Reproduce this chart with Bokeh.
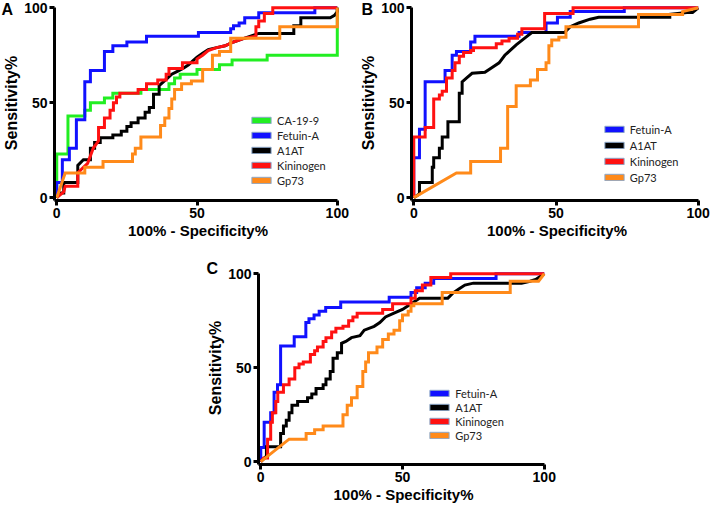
from bokeh.plotting import figure
from bokeh.models import Legend, LegendItem, Range1d, Spacer
from bokeh.layouts import column, row
from bokeh.embed import file_html
from bokeh.resources import INLINE

# ---------------- data (percent) ----------------
# Panel A
a_ca199_x = [0, 0, 4, 4, 10, 10, 12, 12, 17, 17, 20, 20, 30, 30, 40, 40, 42, 42, 44, 44, 50, 50, 58, 58, 62.5, 62.5, 75, 75, 100, 100]
a_ca199_y = [0, 23, 23, 43, 43, 46, 46, 50, 50, 52.5, 52.5, 55, 55, 57, 57, 60, 60, 63, 63, 65, 65, 67.5, 67.5, 70, 70, 72.5, 72.5, 75, 75, 100]

a_fetuin_x = [0, 0, 2, 2, 4.5, 4.5, 7, 7, 10, 10, 12, 12, 17, 17, 20, 20, 25, 25, 32, 32, 50.5, 50.5, 62, 62, 63, 63, 65, 65, 67, 67, 72, 72, 92, 92, 100]
a_fetuin_y = [0, 8, 8, 20, 20, 26, 26, 41, 41, 61, 61, 67, 67, 77, 77, 80, 80, 82, 82, 85, 85, 87, 87, 89, 89, 90.5, 90.5, 92, 92, 94.7, 94.7, 97.4, 97.4, 100, 100]

a_a1at_x = [0, 1.5, 2.5, 2.5, 7.5, 7.5, 9.5, 12, 12, 13.5, 13.5, 15.5, 15.5, 20, 20, 23, 23, 25, 25, 26.5, 26.5, 29, 29, 31.5, 31.5, 33, 33, 34.5, 34.5, 36.5, 36.5, 38, 39.5, 41, 43, 45, 47, 48.5, 50, 52, 54, 57, 60, 63, 67, 72, 84.5, 84.5, 87, 87, 97.5, 99, 100, 100]
a_a1at_y = [0, 2.5, 2.5, 8, 8, 17, 20, 20, 26, 26, 29, 29, 31.5, 31.5, 33, 33, 35, 35, 37.5, 37.5, 39.5, 39.5, 42, 42, 45, 45, 47.5, 47.5, 54.5, 54.5, 59, 61, 63, 65, 66.5, 68, 70, 72, 74, 76, 78, 79, 80, 82, 84, 86.5, 86.5, 90.5, 90.5, 94.7, 94.7, 96, 98, 100]

a_kin_x = [0, 2.5, 3, 7.5, 7.5, 9.5, 11, 12, 13, 14, 14.9, 14.9, 17, 17, 19, 19, 20.2, 20.2, 21.3, 21.3, 22.5, 22.5, 29, 29, 32, 32, 36, 36, 39, 39, 40, 40, 44.8, 44.8, 50, 50, 52, 54, 57, 60, 63, 67, 71, 71, 72, 72, 74, 74, 77, 77, 100]
a_kin_y = [0, 3, 6, 6, 13, 16, 18, 22, 26, 28, 30, 37, 37, 42, 42, 46, 46, 50, 50, 53, 53, 55, 55, 57, 57, 60, 60, 62, 62, 65, 65, 68, 68, 71, 71, 73, 75, 77.5, 79, 80, 82, 84, 85, 90, 90, 93, 93, 97, 97, 100, 100]

a_gp73_x = [0, 3, 10, 10, 16.5, 16.5, 27, 27, 28, 28, 30, 30, 37, 37, 38.5, 38.5, 40, 40, 41, 41, 42, 42, 44.5, 44.5, 48, 48, 52, 52, 55.5, 55.5, 58, 58, 62, 62, 79.5, 79.5, 100, 100]
a_gp73_y = [0, 13, 13, 16, 16, 19, 19, 23, 23, 26, 26, 32, 32, 38, 38, 42, 42, 47, 47, 52, 52, 57, 57, 60, 60, 61.5, 61.5, 67.5, 67.5, 75, 75, 77, 77, 84, 84, 90, 90, 100]

# Panel B
b_fetuin_x = [0, 0, 2, 2, 4, 4, 11, 11, 13.5, 13.5, 15, 15, 20, 20, 21.5, 21.5, 37, 37, 46.5, 46.5, 50.5, 50.5, 55, 55, 74, 74, 100]
b_fetuin_y = [0, 21, 21, 36, 36, 61, 61, 67, 67, 75, 75, 77, 77, 82, 82, 85, 85, 87, 87, 92, 92, 95, 95, 98, 98, 100, 100]

b_a1at_x = [0, 2, 2, 6.5, 6.5, 7, 7, 9, 9, 10, 10, 12, 12, 16, 16, 17, 17, 18.5, 20.5, 25, 27, 30, 32, 33.5, 36, 39, 41.5, 53, 55, 58, 62, 65, 90, 90, 96, 98, 100]
b_a1at_y = [0, 2, 8, 8, 16, 16, 21, 21, 26, 26, 32, 32, 40, 40, 55, 55, 61, 63, 65.5, 66, 68, 71, 75, 77, 80.5, 84, 87, 87, 90, 92, 94, 95, 95, 96.5, 97.5, 97.5, 100]

b_kin_x = [0, 0, 4, 4, 7, 7, 9, 9, 10, 10, 11.5, 11.5, 13.5, 13.5, 14.5, 14.5, 16, 16, 17.5, 17.5, 20, 20, 21, 21, 29, 29, 31, 31, 33.5, 33.5, 36.5, 36.5, 38, 38, 46, 46, 56, 56, 100]
b_kin_y = [0, 32, 32, 37, 37, 52, 52, 54, 54, 56, 56, 63, 63, 67, 67, 71, 71, 74.5, 74.5, 76.5, 76.5, 77.5, 77.5, 79, 79, 81, 81, 82.5, 82.5, 84, 84, 86, 86, 89, 89, 97, 97, 100, 100]

b_gp73_x = [0, 15, 20, 20, 30.5, 30.5, 33, 33, 36, 36, 41, 41, 43.5, 43.5, 46.5, 46.5, 47.5, 47.5, 48.5, 48.5, 51, 51, 53.5, 53.5, 79, 79, 94.5, 94.5, 100]
b_gp73_y = [0, 13, 13, 19, 19, 26, 26, 48, 48, 59, 59, 62, 62, 67.5, 67.5, 71, 71, 80, 80, 83, 83, 84.5, 84.5, 90, 90, 96.5, 96.5, 98, 100]

# Panel C
c_fetuin_x = [0, 0, 1.2, 1.2, 3.5, 3.5, 4.7, 4.7, 5.9, 5.9, 7, 7, 11.8, 11.8, 15.9, 15.9, 17, 17, 18.8, 18.8, 20.6, 20.6, 22.9, 22.9, 28.2, 28.2, 45.3, 45.3, 53, 53, 55, 55, 58, 58, 61, 61, 83, 83, 100]
c_fetuin_y = [0, 7.5, 7.5, 21, 21, 26, 26, 37, 37, 41, 41, 61.5, 61.5, 66.5, 66.5, 74, 74, 76, 76, 78, 78, 80, 80, 82, 82, 85, 85, 87.5, 87.5, 90, 90, 92.5, 92.5, 95, 95, 97.5, 97.5, 100, 100]

c_a1at_x = [0, 2, 2, 7, 7, 8, 8, 9, 9, 10, 10, 11, 11, 13, 13, 16.5, 16.5, 18, 18, 19.5, 19.5, 22, 22, 23, 23, 24.5, 24.5, 25.5, 25.5, 27, 27, 28.5, 28.5, 30, 32, 35, 36.5, 40, 42, 44, 47, 50, 52, 54, 56, 66, 68, 70, 72, 75, 92, 95, 97, 100]
c_a1at_y = [0, 3, 8, 8, 15, 15, 19, 19, 22, 22, 26, 26, 30, 30, 32, 32, 34, 34, 36, 36, 39, 39, 41, 41, 44, 44, 48, 48, 55, 55, 58, 58, 63, 64, 66, 67, 70, 72, 74, 77, 79, 81, 83, 85, 87, 87, 90, 92, 94, 95, 95, 96, 97, 100]

c_kin_x = [0, 1, 2.4, 2.4, 3.5, 3.5, 4.1, 4.1, 5.3, 5.3, 6, 6, 8, 8, 10, 10, 12, 12, 13.5, 13.5, 15, 15, 17.5, 17.5, 19, 19, 20, 20, 22, 22, 23, 23, 25, 25, 26.5, 26.5, 29, 29, 31, 31, 32.5, 32.5, 34, 34, 43, 43, 46.5, 46.5, 53, 53, 54.5, 54.5, 57, 57, 60, 60, 67, 67, 100]
c_kin_y = [0, 2, 2, 12, 12, 21, 21, 26, 26, 32, 32, 37, 37, 41, 41, 44, 44, 50, 50, 52, 52, 53, 53, 57, 57, 59, 59, 61, 61, 64, 64, 66, 66, 69, 69, 71, 71, 72, 72, 75, 75, 77, 77, 79, 79, 81, 81, 84, 84, 87, 87, 91, 91, 94, 94, 98, 98, 100, 100]

c_gp73_x = [0, 10, 16, 16, 19, 19, 22, 22, 29, 29, 30.5, 30.5, 32, 32, 34, 34, 36, 36, 37, 37, 38, 38, 41, 41, 43, 43, 45, 45, 47, 47, 49, 49, 50, 50, 52, 52, 53, 53, 54, 54, 64, 64, 88, 88, 98, 100]
c_gp73_y = [0, 12, 12, 15, 15, 17, 17, 19, 19, 25, 25, 30, 30, 34, 34, 40, 40, 48, 48, 53, 53, 58, 58, 61, 61, 65, 65, 68, 68, 70, 70, 75, 75, 78, 78, 80, 80, 83, 83, 84, 84, 90, 90, 96, 96, 100]

names = {"ca199": "CA-19-9", "fetuin": "Fetuin-A", "a1at": "A1AT", "kin": "Kininogen", "gp73": "Gp73"}
colors = {"ca199": "#22ee22", "fetuin": "#1111ff", "a1at": "#000000", "kin": "#ff1111", "gp73": "#ff8a1a"}

panel_a = [("ca199", a_ca199_x, a_ca199_y), ("fetuin", a_fetuin_x, a_fetuin_y),
           ("a1at", a_a1at_x, a_a1at_y), ("kin", a_kin_x, a_kin_y), ("gp73", a_gp73_x, a_gp73_y)]
panel_b = [("fetuin", b_fetuin_x, b_fetuin_y), ("a1at", b_a1at_x, b_a1at_y),
           ("kin", b_kin_x, b_kin_y), ("gp73", b_gp73_x, b_gp73_y)]
panel_c = [("fetuin", c_fetuin_x, c_fetuin_y), ("a1at", c_a1at_x, c_a1at_y),
           ("kin", c_kin_x, c_kin_y), ("gp73", c_gp73_x, c_gp73_y)]

FONT = "Liberation Sans"
XR = (-0.8, 101.5)
YR = (-1.5, 101.2)
NAN = float("nan")


def make_panel(series, width, height, bl, br, bt, bb, letter, title_offset, title_standoff,
               title_lh, leg_left, leg_bottom, leg_spacing):
    p = figure(width=width, height=height, output_backend="svg", toolbar_location=None,
               x_range=Range1d(*XR), y_range=Range1d(*YR),
               min_border_left=bl, min_border_right=br, min_border_top=bt, min_border_bottom=bb)
    p.outline_line_color = None
    p.xgrid.visible = False
    p.ygrid.visible = False
    p.background_fill_color = "white"
    p.border_fill_color = "white"

    # panel letter as the figure title, pulled to the left edge of the canvas;
    # the leading empty line moves the letter down beside the top of the y axis
    p.title.text = "\n" + letter
    p.title.align = "left"
    p.title.vertical_align = "top"
    p.title.offset = title_offset
    p.title.standoff = title_standoff
    p.title.text_font = FONT
    p.title.text_font_style = "bold"
    p.title.text_font_size = "16px"
    p.title.text_line_height = title_lh
    p.title.text_color = "black"

    for ax in (p.xaxis[0], p.yaxis[0]):
        ax.ticker = [0, 50, 100]
        ax.axis_line_width = 3
        ax.axis_line_color = "black"
        ax.major_tick_line_width = 3
        ax.major_tick_out = 5
        ax.major_tick_in = 0
        ax.minor_tick_line_color = None
        ax.major_label_text_font = FONT
        ax.major_label_text_font_style = "bold"
        ax.major_label_text_font_size = "14px"
        ax.major_label_text_color = "black"
        ax.major_label_standoff = 2
        ax.axis_label_text_font = FONT
        ax.axis_label_text_font_style = "bold"
        ax.axis_label_text_color = "black"
        ax.axis_label_standoff = 1
    p.xaxis.bounds = (XR[0], 100)
    p.yaxis.bounds = (YR[0], 100)
    p.xaxis.axis_label = "100% - Specificity%"
    p.yaxis.axis_label = "Sensitivity%"
    p.xaxis.axis_label_text_font_size = "15px"
    p.yaxis.axis_label_text_font_size = "16px"

    for key, xs, ys in series:
        p.line(xs, ys, line_color=colors[key], line_width=3, line_join="miter")
    items = []
    for key, xs, ys in series:
        sw = p.quad(left=[NAN], right=[NAN], top=[NAN], bottom=[NAN], fill_color=colors[key],
                    line_color="#8aa6c8", line_width=1)
        items.append(LegendItem(label=names[key], renderers=[sw]))

    fw = width - bl - br
    fh = height - bt - bb
    sx = fw / (XR[1] - XR[0])
    sy = fh / (YR[1] - YR[0])
    lx = (leg_left - XR[0]) * sx
    ly = (leg_bottom - YR[0]) * sy
    leg = Legend(items=items, location=(lx, ly), padding=0, margin=0,
                 border_line_alpha=0, background_fill_alpha=0,
                 glyph_width=24, glyph_height=8, label_height=10, spacing=leg_spacing,
                 label_standoff=4, label_text_font="Lato", label_text_font_size="11px",
                 label_text_color="#222222")
    p.add_layout(leg)
    return p


# A: canvas x 0..355, y 0..245 ; frame left 53
pA = make_panel(panel_a, 355, 245, 53, 14, 5, 45, "A", -53, -30, 0.75, 68.5, 5.4, 2)
# B: canvas x 355..714, y 0..245 ; frame left 56
pB = make_panel(panel_b, 359, 245, 56, 12, 5, 45, "B", -50, -30, 0.75, 66.3, 7.0, 3)
# C: canvas x 202..560, y 245..510 ; frame left 56
pC = make_panel(panel_c, 358, 265, 56, 12, 26, 46, "C", -52, -16, 0.92, 58.9, 10.4, 1)

layout = column(row(pA, pB), row(Spacer(width=202, height=265), pC))

open("out.html", "w").write(file_html(layout, INLINE))
